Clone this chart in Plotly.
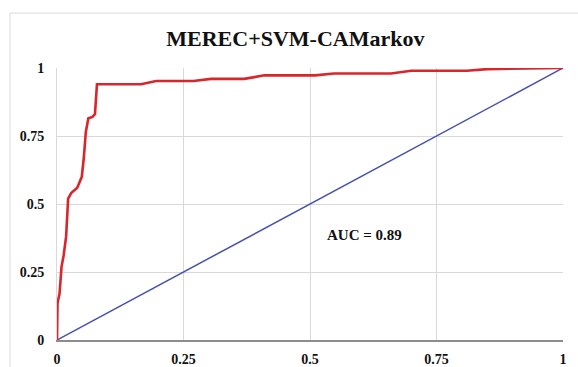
import plotly.graph_objects as go

# ROC curve points (false positive rate, true positive rate)
fpr = [0.0, 0.001, 0.005, 0.009, 0.013, 0.018, 0.022, 0.028, 0.040, 0.049, 0.053,
       0.057, 0.062, 0.070, 0.075, 0.079, 0.081, 0.166, 0.196, 0.245, 0.270, 0.304,
       0.370, 0.410, 0.510, 0.547, 0.660, 0.700, 0.810, 0.850, 1.0]
tpr = [0.0, 0.136, 0.17, 0.27, 0.31, 0.38, 0.52, 0.54, 0.56, 0.60, 0.67,
       0.766, 0.815, 0.82, 0.83, 0.94, 0.94, 0.94, 0.952, 0.952, 0.952, 0.96,
       0.96, 0.973, 0.973, 0.98, 0.98, 0.99, 0.99, 0.996, 1.0]

# Chance diagonal
diag_x = [0.0, 1.0]
diag_y = [0.0, 1.0]

tick_vals = [0, 0.25, 0.5, 0.75, 1]
tick_text = ["0", "0.25", "0.5", "0.75", "1"]

title_text = "MEREC+SVM-CAMarkov"
auc_text = "AUC = 0.89"

serif = "Liberation Serif, Times New Roman, serif"

fig = go.Figure()
fig.add_trace(go.Scatter(x=diag_x, y=diag_y, mode="lines",
                         line=dict(color="#4450b0", width=1.5), showlegend=False))
fig.add_trace(go.Scatter(x=fpr, y=tpr, mode="lines",
                         line=dict(color="#d8262a", width=2.6), showlegend=False))

fig.add_annotation(x=0.607, y=0.386, xref="x", yref="y", text=f"<b>{auc_text}</b>",
                   showarrow=False, font=dict(family=serif, size=15, color="#111"))

# Chart frame
fig.add_shape(type="rect", xref="paper", yref="paper", x0=-0.093, y0=-0.3, x1=1.2, y1=1.202,
              line=dict(color="#d9d9d9", width=1), layer="below")

fig.update_layout(
    width=578, height=367,
    margin=dict(l=57, r=15, t=68, b=27, autoexpand=False),
    paper_bgcolor="white", plot_bgcolor="white",
    title=dict(text=f"<b>{title_text}</b>", x=0.511, xanchor="center", y=0.897, yanchor="middle",
               font=dict(family=serif, size=22, color="#111")),
    xaxis=dict(range=[0, 1], tickvals=tick_vals, ticktext=[f"<b>{t}</b>" for t in tick_text],
               showgrid=True, gridcolor="#d9d9d9", gridwidth=1,
               showline=True, linecolor="#8c8c8c", linewidth=1.5,
               zeroline=False, ticks="", ticklen=0, ticklabelstandoff=5, automargin=False,
               tickfont=dict(family=serif, size=14, color="#111")),
    yaxis=dict(range=[0, 1], tickvals=tick_vals, ticktext=[f"<b>{t}</b>" for t in tick_text],
               showgrid=True, gridcolor="#d9d9d9", gridwidth=1,
               showline=True, linecolor="#d9d9d9", linewidth=1,
               zeroline=False, ticks="", ticklen=0, ticklabelstandoff=9, automargin=False,
               tickfont=dict(family=serif, size=14, color="#111")),
)

fig.write_html("out.html")
